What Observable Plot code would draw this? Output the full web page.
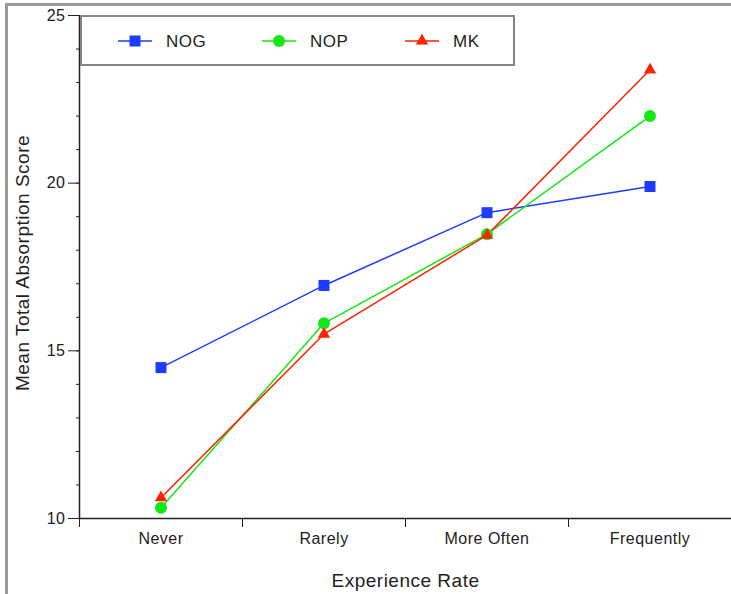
<!DOCTYPE html>
<html><head><meta charset="utf-8">
<script src="https://cdn.jsdelivr.net/npm/d3@7"></script>
<script src="https://cdn.jsdelivr.net/npm/@observablehq/plot@0.6"></script>
<style>
body{margin:0;background:#fff;font-family:"Liberation Sans",Arial,sans-serif;}
#wrap{position:relative;width:731px;height:594px;overflow:hidden;background:#fff;}
#wrap svg{position:absolute;left:0;top:0;}
.bar-left{position:absolute;left:5px;top:3px;width:3px;height:600px;background:#9a9a9a;}
.bar-top{position:absolute;left:5px;top:3px;width:740px;height:3px;background:#9a9a9a;}
#legend{position:absolute;left:80px;top:15px;width:431px;height:47px;border:2px solid #858585;background:#fff;}
</style></head>
<body><div id="wrap"></div>
<script>
const categories = ["Never", "Rarely", "More Often", "Frequently"];
const nog = [14.5, 16.95, 19.12, 19.9];
const nop = [10.32, 15.82, 18.48, 22.0];
const mk = [10.62, 15.5, 18.45, 23.38];
const seriesNames = ["NOG", "NOP", "MK"];
const seriesColors = ["#1d3cff", "#14e814", "#ff2200"];
const seriesSymbols = ["square", "circle", "triangle"];
const seriesR = [6.2, 6, 4.6];
const yMajorTicks = [10, 15, 20, 25];
const yMinorTicks = d3.range(10, 26);
const xLabel = "Experience Rate";
const yLabel = "Mean Total Absorption Score";

const seriesValues = [nog, nop, mk];
const rows = [];
seriesNames.forEach((s, k) => {
  categories.forEach((c, i) => rows.push({series: s, cat: c, xi: i + 0.5, value: seriesValues[k][i]}));
});
const font = "Liberation Sans, Arial, sans-serif";

const chart = Plot.plot({
  width: 731, height: 594,
  marginLeft: 79, marginRight: 0, marginTop: 15, marginBottom: 76,
  style: {fontFamily: font, background: "white", color: "#222"},
  x: {type: "linear", domain: [0, categories.length]},
  y: {domain: [10, 25]},
  color: {domain: seriesNames, range: seriesColors},
  marks: [
    Plot.axisY(yMinorTicks, {tickSize: 3, tickFormat: () => "", stroke: "#222", label: null}),
    Plot.axisY(yMajorTicks, {tickSize: 11, tickPadding: 3, fontSize: 16, stroke: "#222", fill: "#222", label: null}),
    Plot.axisX(d3.range(categories.length), {tickSize: 9, tickFormat: () => "", stroke: "#222", label: null}),
    Plot.axisX(categories.map((c, i) => i + 0.5), {tickSize: 0, tickPadding: 14, fontSize: 16, fill: "#222", label: null, tickFormat: d => categories[Math.floor(d)]}),
    Plot.ruleX([0], {stroke: "#222", strokeWidth: 1.5}),
    Plot.ruleY([10], {stroke: "#222", strokeWidth: 1.5}),
    Plot.text([xLabel], {frameAnchor: "bottom", dy: 62, fontSize: 19, fill: "#222", lineAnchor: "middle"}),
    Plot.text([yLabel], {frameAnchor: "left", dx: -57, dy: -4, rotate: -90, fontSize: 19, fill: "#222", lineAnchor: "middle", textAnchor: "middle"}),
    Plot.line(rows, {x: "xi", y: "value", z: "series", stroke: "series", strokeWidth: 1.5}),
    ...seriesNames.map((s, k) => Plot.dot(rows.filter(d => d.series === s), {x: "xi", y: "value", symbol: seriesSymbols[k], r: seriesR[k], fill: seriesColors[k], stroke: "none"}))
  ]
});
const wrap = document.getElementById("wrap");
wrap.appendChild(chart);
d3.select(chart).selectAll("text").style("letter-spacing", "0.5px");

["bar-left", "bar-top"].forEach(c => { const d = document.createElement("div"); d.className = c; wrap.appendChild(d); });

// Legend
const leg = document.createElement("div");
leg.id = "legend";
wrap.appendChild(leg);
const lsvg = d3.select(leg).append("svg").attr("width", 431).attr("height", 47).style("position", "absolute").style("left", 0).style("top", 0);
const legX = [36, 180, 323];
const symMap = {square: d3.symbolSquare, circle: d3.symbolCircle, triangle: d3.symbolTriangle};
seriesNames.forEach((s, k) => {
  const g = lsvg.append("g").attr("transform", `translate(${legX[k]},24)`);
  g.append("line").attr("x1", 0).attr("x2", 34).attr("stroke", seriesColors[k]).attr("stroke-width", 1.5);
  g.append("path").attr("transform", "translate(17,0)").attr("d", d3.symbol(symMap[seriesSymbols[k]], Math.PI * seriesR[k] * seriesR[k])()).attr("fill", seriesColors[k]);
  g.append("text").attr("x", 48).attr("y", 0).attr("dy", "0.36em").attr("font-size", 17).attr("font-family", font).attr("fill", "#222").style("letter-spacing", "0.5px").text(s);
});
</script>
</body></html>
